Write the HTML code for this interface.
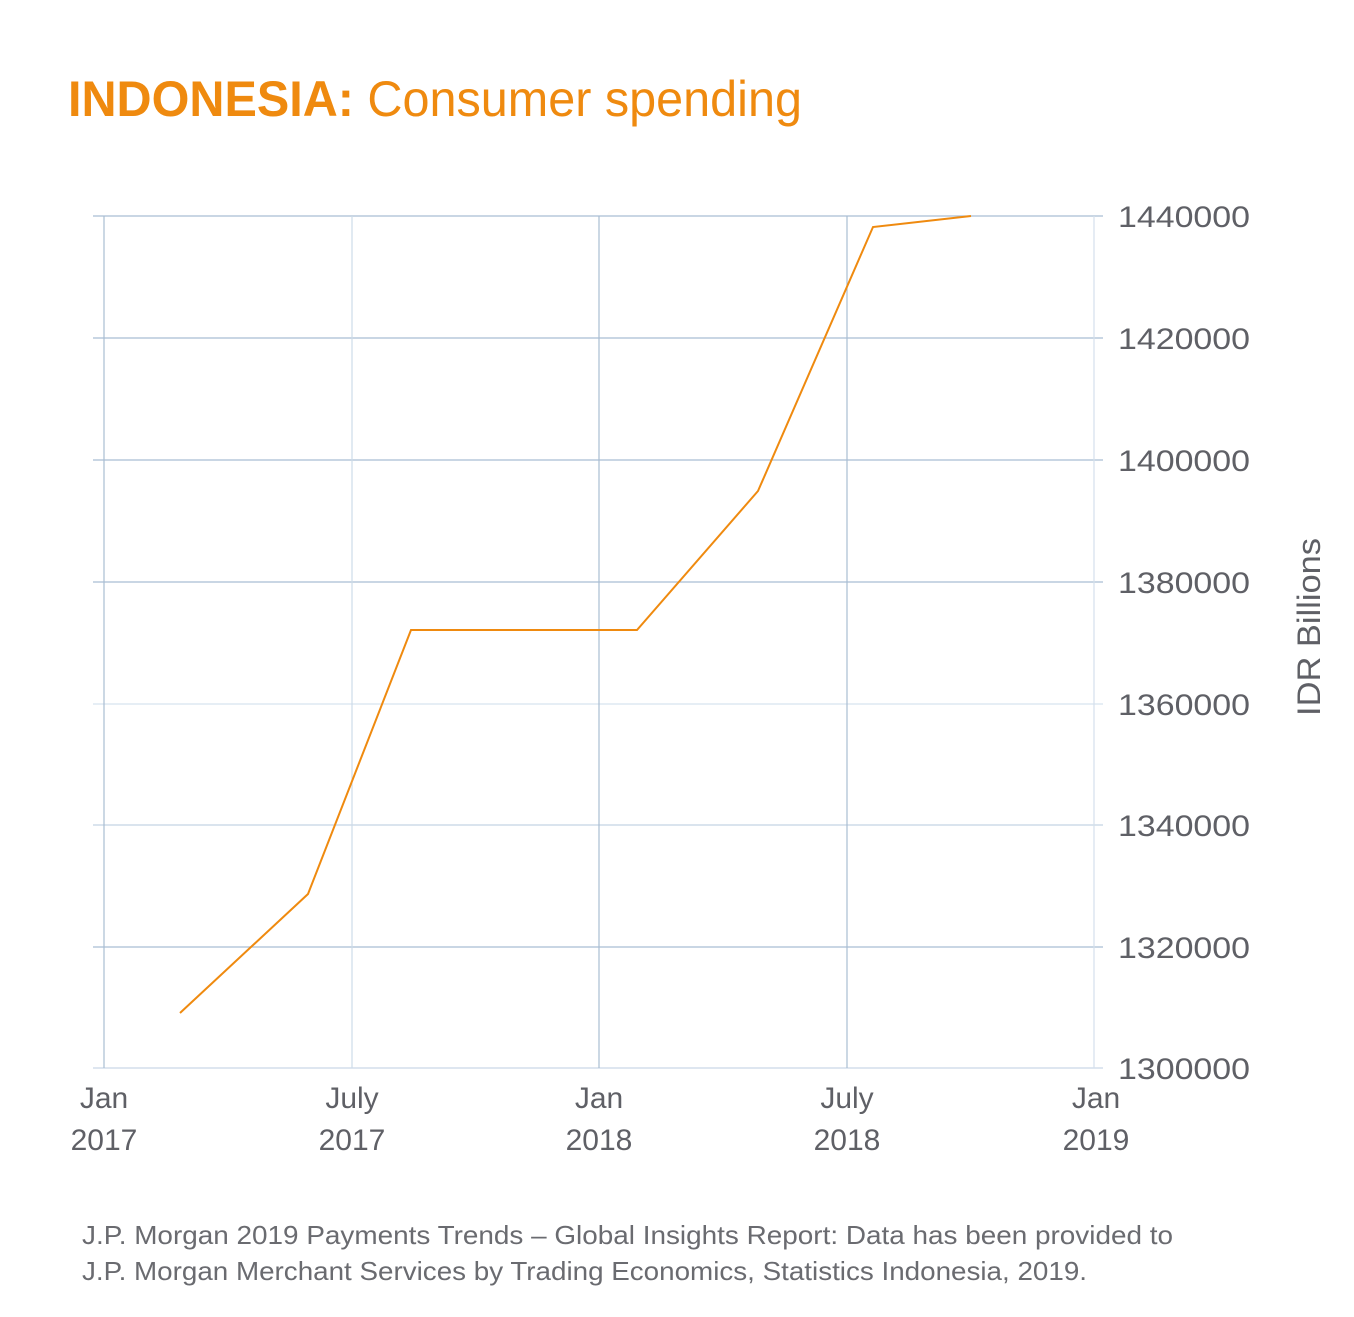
<!DOCTYPE html>
<html><head><style>
body{margin:0;width:1354px;height:1312px;background:#fff;overflow:hidden;font-family:"Liberation Sans",sans-serif;}
</style></head><body>
<svg width="1354" height="1312" xmlns="http://www.w3.org/2000/svg" font-family="Liberation Sans, sans-serif">
<text x="68" y="116" font-size="50" fill="#ef8a0f" textLength="734" lengthAdjust="spacingAndGlyphs"><tspan font-weight="bold">INDONESIA:</tspan> Consumer spending</text>
<g stroke="#a9bdd3" stroke-width="1.2">
<line x1="93" y1="216" x2="1103" y2="216"/>
<line x1="93" y1="338" x2="1103" y2="338"/>
<line x1="93" y1="460" x2="1103" y2="460"/>
<line x1="93" y1="582" x2="1103" y2="582"/>
<line x1="93" y1="704" x2="1103" y2="704" stroke="#d8e3ef"/>
<line x1="93" y1="825" x2="1103" y2="825" stroke="#c4d3e3"/>
<line x1="93" y1="947" x2="1103" y2="947"/>
<line x1="93" y1="1068" x2="1103" y2="1068" stroke="#c9d8e8"/>
<line x1="104" y1="216" x2="104" y2="1068"/>
<line x1="352" y1="216" x2="352" y2="1068" stroke="#cddbe8"/>
<line x1="599" y1="216" x2="599" y2="1068"/>
<line x1="847" y1="216" x2="847" y2="1068"/>
<line x1="1094" y1="216" x2="1094" y2="1068" stroke="#d4e0ec"/>
</g>
<polyline fill="none" stroke="#ef8a0f" stroke-width="2" points="180,1013 308,894 411,630 637,630 758,491 873,227 971,216"/>
<g font-size="30" fill="#5f6066">
<text x="1118" y="227" textLength="132" lengthAdjust="spacingAndGlyphs">1440000</text>
<text x="1118" y="349" textLength="132" lengthAdjust="spacingAndGlyphs">1420000</text>
<text x="1118" y="471" textLength="132" lengthAdjust="spacingAndGlyphs">1400000</text>
<text x="1118" y="593" textLength="132" lengthAdjust="spacingAndGlyphs">1380000</text>
<text x="1118" y="715" textLength="132" lengthAdjust="spacingAndGlyphs">1360000</text>
<text x="1118" y="836" textLength="132" lengthAdjust="spacingAndGlyphs">1340000</text>
<text x="1118" y="958" textLength="132" lengthAdjust="spacingAndGlyphs">1320000</text>
<text x="1118" y="1079" textLength="132" lengthAdjust="spacingAndGlyphs">1300000</text>
</g>
<g font-size="30" fill="#5f6066" text-anchor="middle">
<text x="104" y="1108">Jan</text><text x="104" y="1150">2017</text>
<text x="352" y="1108">July</text><text x="352" y="1150">2017</text>
<text x="599" y="1108">Jan</text><text x="599" y="1150">2018</text>
<text x="847" y="1108">July</text><text x="847" y="1150">2018</text>
<text x="1096" y="1108">Jan</text><text x="1096" y="1150">2019</text>
</g>
<text transform="translate(1320,716) rotate(-90)" font-size="32" fill="#5f6066" textLength="178" lengthAdjust="spacingAndGlyphs">IDR Billions</text>
<g font-size="26" fill="#6a6b70">
<text x="82" y="1244" textLength="1091" lengthAdjust="spacingAndGlyphs">J.P. Morgan 2019 Payments Trends – Global Insights Report: Data has been provided to</text>
<text x="82" y="1280" textLength="1005" lengthAdjust="spacingAndGlyphs">J.P. Morgan Merchant Services by Trading Economics, Statistics Indonesia, 2019.</text>
</g>
</svg>
</body></html>
